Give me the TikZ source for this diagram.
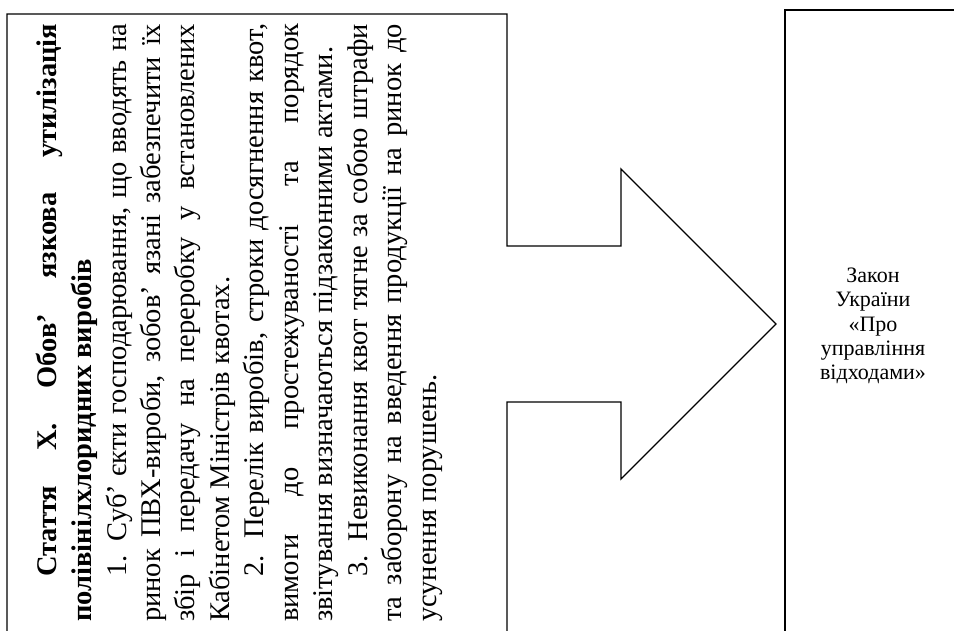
\documentclass[tikz,border=0pt]{standalone}
\usepackage{fontspec}
\setmainfont{Liberation Serif}
\tikzset{
  outline/.style={draw=black, line width=1.3pt, line join=miter},
  lawbox/.style={draw=black, line width=2pt, minimum width=176pt, minimum height=632pt,
    inner sep=0pt, align=center, font=\fontsize{22}{24.2}\selectfont},
  articletext/.style={rotate=90, anchor=base west, inner sep=0pt},
}
\newcommand{\articlebody}{%
  \parbox[t]{598pt}{\fontsize{28.5}{34.5}\selectfont
    \setlength{\parindent}{45pt}\tolerance=10000
    \textbf{Стаття Х. Обов’ язкова утилізація\linebreak
    полівінілхлоридних виробів}\par
    1. Суб’ єкти господарювання, що вводять на\linebreak
    ринок ПВХ-вироби, зобов’ язані забезпечити їх\linebreak
    збір і передачу на переробку у встановлених\linebreak
    Кабінетом Міністрів квотах.\par
    2. Перелік виробів, строки досягнення квот,\linebreak
    вимоги до простежуваності та порядок\linebreak
    звітування визначаються підзаконними актами.\par
    3. Невиконання квот тягне за собою штрафи\linebreak
    та заборону на введення продукції на ринок до\linebreak
    усунення порушень.}}
\begin{document}
\begin{tikzpicture}[x=1pt,y=1pt]
  \useasboundingbox (0,0) rectangle (954,630);
  \clip (0,0) rectangle (954,630);
  % text box with the arrow on its right side
  \draw[outline] (7,-20)--(7,616)--(507,616)--(507,384)--(621,384)--(621,461)
    --(776,306)--(621,151)--(621,228)--(507,228)--(507,-20);
  \node[articletext] (stattia) at (57,8) {\articlebody};
  % law box
  \node[lawbox] (zakon) at (873,304) {Закон\\України\\«Про\\управління\\відходами»};
\end{tikzpicture}
\end{document}
